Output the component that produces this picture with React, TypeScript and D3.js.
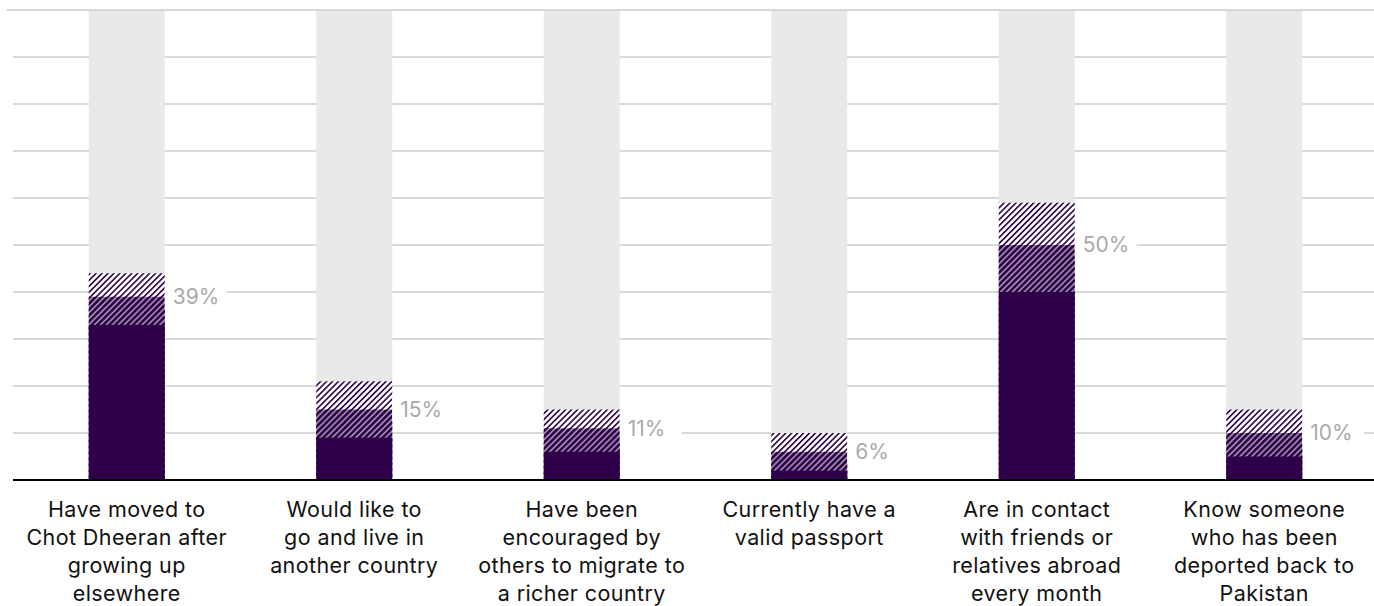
import React from "react";
import * as d3 from "d3";

const categories: string[][] = [
  ["Have moved to", "Chot Dheeran after", "growing up", "elsewhere"],
  ["Would like to", "go and live in", "another country"],
  ["Have been", "encouraged by", "others to migrate to", "a richer country"],
  ["Currently have a", "valid passport"],
  ["Are in contact", "with friends or", "relatives abroad", "every month"],
  ["Know someone", "who has been", "deported back to", "Pakistan"],
];
const lowerValues = [33, 9, 6, 2, 40, 5];
const centralValues = [39, 15, 11, 6, 50, 10];
const upperValues = [44, 21, 15, 10, 59, 15];
const gridTicks = [0, 10, 20, 30, 40, 50, 60, 70, 80, 90, 100];

const W = 1374;
const H = 606;
const PURPLE = "#2d0049";
const FONT = "Inter, 'Noto Sans', sans-serif";

export default function App() {
  const ids = categories.map((_, i) => String(i));
  const x = d3.scaleBand<string>().domain(ids).range([13, 1378]).paddingInner(0.666).paddingOuter(0.333);
  const y = d3.scaleLinear().domain([0, 100]).range([480, 10]);
  const bw = x.bandwidth();

  return (
    <svg width={W} height={H} style={{ position: "absolute", left: 0, top: 0, background: "#fff" }}>
      <defs>
        <pattern id="light" patternUnits="userSpaceOnUse" width={4.2} height={4.2} patternTransform="rotate(45)">
          <rect width={4.2} height={4.2} fill="#ffffff" />
          <rect width={1.6} height={4.2} fill={PURPLE} />
        </pattern>
        <pattern id="dense" patternUnits="userSpaceOnUse" width={4.2} height={4.2} patternTransform="rotate(45)">
          <rect width={4.2} height={4.2} fill={PURPLE} />
          <rect x={2.1} width={0.9} height={4.2} fill="#ffffff" />
        </pattern>
      </defs>
      {gridTicks.slice(1, -1).map((t) => (
        <line key={t} x1={13} x2={W} y1={y(t)} y2={y(t)} stroke="#cccccc" strokeWidth={1.5} />
      ))}
      {ids.map((id, i) => {
        const x0 = x(id)!;
        return (
          <g key={id}>
            <rect x={x0} y={y(100)} width={bw} height={y(0) - y(100)} fill="#e9e9e9" />
            <rect x={x0} y={y(upperValues[i])} width={bw} height={y(0) - y(upperValues[i])} fill="url(#light)" />
            <rect x={x0} y={y(centralValues[i])} width={bw} height={y(0) - y(centralValues[i])} fill="url(#dense)" />
            <rect x={x0} y={y(lowerValues[i])} width={bw} height={y(0) - y(lowerValues[i])} fill={PURPLE} />
            <rect x={x0 + bw} y={y(centralValues[i]) - 12} width={62} height={24} fill="#fff" />
            <text
              x={x0 + bw + 8}
              y={y(centralValues[i])}
              dy="0.35em"
              fontFamily={FONT}
              fontSize={21}
              fill="#aaaaaa"
            >
              {centralValues[i]}%
            </text>
            <text textAnchor="middle" fontFamily={FONT} fontSize={21.5} letterSpacing={0.4} fill="#111">
              {categories[i].map((line, j) => (
                <tspan key={j} x={x0 + bw / 2} y={509 + j * 28} dy="0.35em">
                  {line}
                </tspan>
              ))}
            </text>
          </g>
        );
      })}
      <line x1={7} x2={W} y1={y(100)} y2={y(100)} stroke="#cccccc" strokeWidth={1.5} />
      <line x1={13} x2={W} y1={y(0)} y2={y(0)} stroke="#000" strokeWidth={2.2} />
    </svg>
  );
}
